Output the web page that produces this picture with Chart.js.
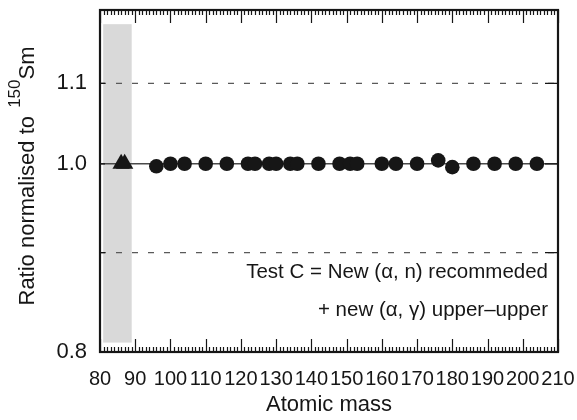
<!DOCTYPE html>
<html>
<head>
<meta charset="utf-8">
<script src="https://cdn.jsdelivr.net/npm/chart.js@4/dist/chart.umd.min.js"></script>
<style>
  html, body { margin: 0; padding: 0; background: #fff; }
  canvas { display: block; }
</style>
</head>
<body>
<canvas id="c" width="577" height="420"></canvas>
<script>
// ---- data ----
const circleMass  = [96, 100, 104, 110, 116, 122, 124, 128, 130, 134, 136, 142, 148, 151, 153, 160, 164, 170, 176, 180, 186, 192, 198, 204];
const circleRatio = [0.997, 1.0, 1.0, 1.0, 1.0, 1.0, 1.0, 1.0, 1.0, 1.0, 1.0, 1.0, 1.0, 1.0, 1.0, 1.0, 1.0, 1.0, 1.004, 0.996, 1.0, 1.0, 1.0, 1.0];
const triangleMass  = [86, 87];
const triangleRatio = [1.0, 1.0];
const unityLevel = 1.0;
const dashedLevels = [0.9, 1.1];
const bandMass  = [80.9, 89.0];
const bandRatio = [0.809, 1.18];
const xRange = [80, 210];
const yRange = [0.8, 1.2];
const yTicks = [0.8, 0.9, 1.0, 1.1];
const yTickLabels = [0.8, 1.0, 1.1];
const xTitle = 'Atomic mass';
const yTitleMain = 'Ratio normalised to ';
const yTitleSup = '150';
const yTitleEnd = 'Sm';
const noteLines = ['Test C = New (\u03b1, n) recommeded', '+ new (\u03b1, \u03b3) upper\u2013upper'];

const FONT = '"Liberation Sans", Arial, Helvetica, sans-serif';
const INK = '#161616';

const toPts = (xs, ys) => xs.map((v, i) => ({ x: v, y: ys[i] }));
const hLine = (lvl) => [{ x: xRange[0], y: lvl }, { x: xRange[1], y: lvl }];

const decor = {
  id: 'decor',
  beforeDatasetsDraw(chart) {
    const { ctx, scales: { x, y } } = chart;
    const x0 = x.getPixelForValue(bandMass[0]), x1 = x.getPixelForValue(bandMass[1]);
    const y0 = y.getPixelForValue(bandRatio[1]), y1 = y.getPixelForValue(bandRatio[0]);
    ctx.save();
    ctx.fillStyle = '#d9d9d9';
    ctx.fillRect(x0, y0, x1 - x0, y1 - y0);
    ctx.restore();
  },
  afterDraw(chart) {
    const { ctx, chartArea: a, scales: { x, y } } = chart;
    ctx.save();
    // inward ticks
    ctx.strokeStyle = INK;
    ctx.lineWidth = 1.2;
    ctx.beginPath();
    x.ticks.forEach(t => {
      const px = Math.round(x.getPixelForValue(t.value)) + 0.5;
      const len = (Math.round(t.value) % 10 === 0) ? 13 : 5;
      ctx.moveTo(px, a.bottom); ctx.lineTo(px, a.bottom - len);
      ctx.moveTo(px, a.top); ctx.lineTo(px, a.top + len);
    });
    y.ticks.forEach(t => {
      const py = y.getPixelForValue(t.value);
      ctx.moveTo(a.left, py); ctx.lineTo(a.left + 5, py);
      ctx.moveTo(a.right, py); ctx.lineTo(a.right - 13, py);
    });
    ctx.stroke();
    // frame
    ctx.lineWidth = 2.2;
    ctx.strokeRect(a.left, a.top, a.right - a.left, a.bottom - a.top);

    // annotation text
    ctx.fillStyle = INK;
    ctx.font = '20.5px ' + FONT;
    ctx.textAlign = 'right';
    ctx.textBaseline = 'middle';
    ctx.fillText(noteLines[0], a.right - 10, 272);
    ctx.fillText(noteLines[1], a.right - 10, 310);

    // x title
    ctx.textAlign = 'center';
    ctx.textBaseline = 'alphabetic';
    ctx.font = '22px ' + FONT;
    ctx.fillText(xTitle, (a.left + a.right) / 2, 411);

    // y title with superscript
    const mainFont = '22px ' + FONT, supFont = '17px ' + FONT;
    ctx.font = mainFont; const w1 = ctx.measureText(yTitleMain).width;
    const w3 = ctx.measureText(yTitleEnd).width;
    ctx.font = supFont; const w2 = ctx.measureText(yTitleSup).width;
    const W = w1 + w2 + 2 + w3;
    ctx.translate(34, 176);
    ctx.rotate(-Math.PI / 2);
    ctx.textAlign = 'left';
    let s = -W / 2;
    ctx.font = mainFont; ctx.fillText(yTitleMain, s, 0); s += w1 + 2;
    ctx.font = supFont; ctx.fillText(yTitleSup, s, -14); s += w2;
    ctx.font = mainFont; ctx.fillText(yTitleEnd, s, 0);
    ctx.restore();
  }
};

const datasets = [];
dashedLevels.forEach(lvl => datasets.push({
  type: 'line', data: hLine(lvl), borderColor: '#5a5a5a', borderWidth: 1.2,
  borderDash: [6, 10], pointRadius: 0, fill: false, order: 5
}));
datasets.push({
  type: 'line', data: hLine(unityLevel), borderColor: '#4a4a4a', borderWidth: 1.6,
  pointRadius: 0, fill: false, order: 4
});
datasets.push({
  type: 'scatter', data: toPts(circleMass, circleRatio), pointStyle: 'circle',
  pointRadius: 7.3, backgroundColor: INK, borderColor: INK, borderWidth: 0, order: 2
});
datasets.push({
  type: 'scatter', data: toPts(triangleMass, triangleRatio), pointStyle: 'triangle',
  pointRadius: 10, backgroundColor: INK, borderColor: INK, borderWidth: 0, order: 1
});

const zeroPad = s => { s.paddingTop = 0; s.paddingBottom = 0; s.paddingLeft = 0; s.paddingRight = 0; };

new Chart(document.getElementById('c'), {
  type: 'scatter',
  data: { datasets },
  options: {
    responsive: false,
    animation: false,
    devicePixelRatio: 1,
    layout: { padding: { top: 9, right: 19, left: 0, bottom: 0 } },
    plugins: { legend: { display: false }, tooltip: { enabled: false } },
    scales: {
      x: {
        type: 'linear', min: xRange[0], max: xRange[1],
        grid: { display: false, drawTicks: false },
        border: { display: false },
        ticks: {
          stepSize: 1, autoSkip: false, maxRotation: 0, padding: 15,
          color: INK, font: { family: FONT, size: 20 },
          callback: v => (Math.round(v) % 10 === 0 ? String(Math.round(v)) : '')
        },
        afterFit: s => { s.height = 68; zeroPad(s); }
      },
      y: {
        type: 'logarithmic', min: yRange[0], max: yRange[1],
        grid: { display: false, drawTicks: false },
        border: { display: false },
        afterBuildTicks: s => { s.ticks = yTicks.map(v => ({ value: v })); },
        ticks: {
          padding: 13, color: INK, font: { family: FONT, size: 22 },
          callback: v => (yTickLabels.some(l => Math.abs(l - v) < 1e-9) ? v.toFixed(1) : '')
        },
        afterFit: s => { s.width = 100; zeroPad(s); }
      }
    }
  },
  plugins: [decor]
});
</script>
</body>
</html>
